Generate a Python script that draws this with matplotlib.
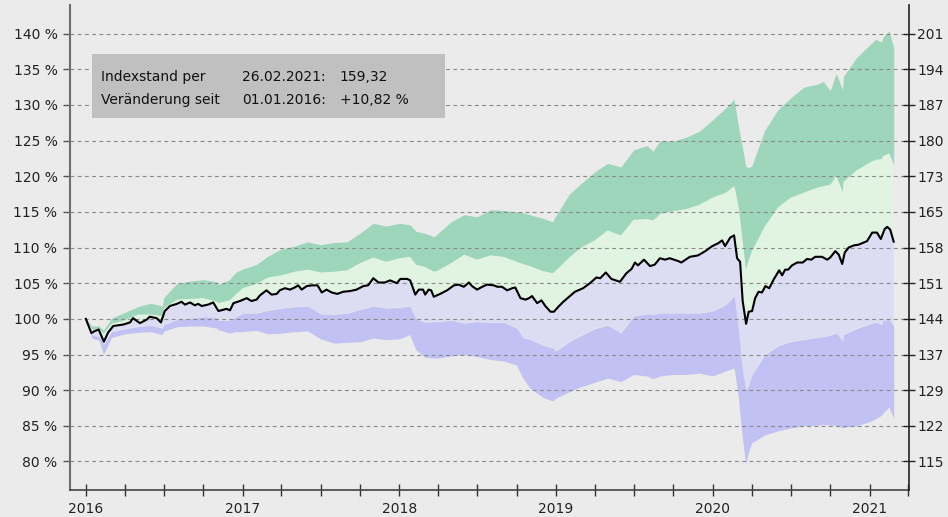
import numpy as np
import pandas as pd
import matplotlib
matplotlib.use("Agg")
import matplotlib.pyplot as plt
import matplotlib.dates as mdates
from matplotlib.patches import Rectangle
from matplotlib.ticker import FuncFormatter

# Bandbreiten in % vom Startwert (01.01.2016)
band_dates = [
    "2016-01-01", "2016-01-15", "2016-02-01", "2016-02-11", "2016-03-01", "2016-04-01",
    "2016-05-01", "2016-06-01", "2016-06-27", "2016-07-01", "2016-08-01", "2016-09-01",
    "2016-10-01", "2016-11-01", "2016-11-04", "2016-12-01", "2016-12-15",
    "2017-01-01", "2017-02-01", "2017-03-01", "2017-04-01", "2017-05-01", "2017-06-01",
    "2017-07-01", "2017-08-01", "2017-09-01", "2017-10-01", "2017-11-01", "2017-12-01",
    "2018-01-01", "2018-01-25", "2018-02-08", "2018-03-01", "2018-03-23", "2018-04-01",
    "2018-05-01", "2018-06-01", "2018-07-01", "2018-08-01", "2018-09-01", "2018-10-01",
    "2018-10-15", "2018-11-01", "2018-12-01", "2018-12-24",
    "2019-01-01", "2019-02-01", "2019-03-01", "2019-04-01", "2019-05-01", "2019-06-01",
    "2019-07-01", "2019-08-01", "2019-08-15", "2019-09-01", "2019-10-01", "2019-11-01",
    "2019-12-01",
    "2020-01-01", "2020-02-01", "2020-02-20", "2020-03-01", "2020-03-09", "2020-03-18",
    "2020-03-23", "2020-04-01", "2020-05-01", "2020-06-01", "2020-07-01", "2020-08-01",
    "2020-09-01", "2020-09-15", "2020-10-01", "2020-10-15", "2020-10-30", "2020-11-01",
    "2020-12-01",
    "2021-01-01", "2021-01-15", "2021-01-29", "2021-02-01", "2021-02-15", "2021-02-26",
]
band_top = [
    100.0, 99.0, 99.0, 98.4, 100.1, 100.9,
    101.7, 102.2, 101.8, 103.0, 105.0, 105.3,
    105.5, 105.2, 104.8, 105.5, 106.5,
    107.0, 107.6, 108.8, 109.8, 110.2, 110.8,
    110.4, 110.7, 110.8, 112.0, 113.4, 113.0,
    113.4, 113.2, 112.3, 112.0, 111.5, 112.0,
    113.6, 114.6, 114.3, 115.3, 115.2, 115.0,
    114.9, 114.6, 114.1, 113.6,
    114.5, 117.5, 119.0, 120.6, 121.8, 121.3,
    123.7, 124.3, 123.5, 125.0, 124.9, 125.5,
    126.3,
    127.9, 129.6, 130.8, 127.0, 124.5, 121.4,
    121.2, 121.4, 126.4, 129.3, 131.0, 132.5,
    132.9, 133.3, 132.0, 134.4, 132.1, 134.0,
    136.6,
    138.4, 139.2, 138.8, 139.5, 140.4, 138.0,
]
band_upper = [
    100.0, 98.5, 98.6, 97.9, 99.3, 99.8,
    100.6, 100.6, 100.4, 101.5, 102.7, 102.8,
    102.9, 102.4, 102.2, 102.6, 103.4,
    104.3, 104.9, 105.8, 106.1, 106.6, 106.9,
    106.5, 106.6, 106.8, 107.8, 108.6, 108.0,
    108.5, 108.7, 107.6, 107.3, 106.6, 106.8,
    107.8, 109.0, 108.3, 108.9, 108.7, 108.0,
    107.7, 107.4, 106.7, 106.4,
    106.8, 108.6, 110.0, 111.0, 112.4, 111.7,
    113.9, 114.0, 113.8, 114.7, 115.1, 115.4,
    116.0,
    117.0, 117.7, 118.6, 115.6, 111.5, 106.7,
    107.8, 109.4, 112.9, 115.6, 117.0, 117.7,
    118.4, 118.6, 118.8, 120.0, 117.7, 119.2,
    120.8,
    121.9, 122.3, 122.4, 122.8, 123.2, 121.6,
]
band_lower = [
    100.0, 97.8, 97.5, 96.4, 98.2, 98.6,
    98.9, 99.1, 98.7, 99.2, 99.9, 100.1,
    100.3, 100.2, 99.8, 99.8, 100.3,
    100.8, 100.8, 101.2, 101.5, 101.7, 101.8,
    100.7, 100.6, 100.8, 101.3, 101.8, 101.5,
    101.6, 101.8, 100.0, 99.5, 99.6, 99.6,
    99.8, 99.4, 99.6, 99.5, 99.5, 98.7,
    97.4, 97.1, 96.3, 95.9,
    95.5, 96.8, 97.7, 98.6, 99.1, 98.0,
    100.4, 100.7, 100.6, 100.8, 100.8, 100.8,
    100.8,
    101.1, 102.0, 103.2, 98.5, 93.3, 90.1,
    90.5, 92.1, 94.9, 96.2, 96.8, 97.1,
    97.4, 97.5, 97.7, 98.0, 96.9, 97.8,
    98.6,
    99.3, 99.5, 99.2, 99.8, 99.9, 99.0,
]
band_bottom = [
    100.0, 97.3, 97.0, 95.0, 97.4, 97.9,
    98.1, 98.2, 97.8, 98.3, 98.9, 99.0,
    99.0, 98.7, 98.5, 98.0, 98.2,
    98.2, 98.4, 97.9, 98.0, 98.2, 98.3,
    97.2, 96.6, 96.7, 96.8, 97.3, 97.1,
    97.2, 97.8, 95.7, 94.6, 94.5, 94.5,
    94.8, 95.0, 94.7, 94.3, 94.1, 93.5,
    91.8, 90.3, 89.0, 88.5,
    88.9, 89.8, 90.5, 91.1, 91.7, 91.2,
    92.2, 92.0, 91.6, 92.0, 92.2, 92.2,
    92.4,
    92.0, 92.7, 93.1, 89.0, 84.0, 79.6,
    81.0, 82.6, 83.7, 84.3, 84.7, 85.0,
    85.1, 85.2, 85.1, 85.1, 84.7, 84.8,
    85.0,
    85.6, 86.0, 86.5, 86.8, 87.6, 86.0,
]

# Indexverlauf in % vom Startwert
line_dates = [
    "2016-01-01", "2016-01-14", "2016-01-22", "2016-01-31", "2016-02-12", "2016-02-22",
    "2016-03-05", "2016-03-16", "2016-03-28", "2016-04-13", "2016-04-20", "2016-05-06",
    "2016-05-22", "2016-05-29", "2016-06-14", "2016-06-24", "2016-07-03", "2016-07-15",
    "2016-07-31", "2016-08-11", "2016-08-19", "2016-08-31", "2016-09-11", "2016-09-19",
    "2016-09-27", "2016-10-12", "2016-10-24", "2016-11-05", "2016-11-24", "2016-12-02",
    "2016-12-10", "2016-12-25",
    "2017-01-10", "2017-01-21", "2017-02-02", "2017-02-10", "2017-02-25", "2017-03-09",
    "2017-03-21", "2017-03-28", "2017-04-09", "2017-04-21", "2017-05-02", "2017-05-10",
    "2017-05-18", "2017-05-30", "2017-06-11", "2017-06-24", "2017-07-04", "2017-07-15",
    "2017-07-27", "2017-08-09", "2017-08-23", "2017-09-08", "2017-09-23", "2017-10-09",
    "2017-10-20", "2017-11-01", "2017-11-13", "2017-11-28", "2017-12-10", "2017-12-26",
    "2018-01-03", "2018-01-19", "2018-01-26", "2018-02-07", "2018-02-15", "2018-02-25",
    "2018-03-02", "2018-03-10", "2018-03-16", "2018-03-22", "2018-04-06", "2018-04-22",
    "2018-05-08", "2018-05-19", "2018-05-31", "2018-06-12", "2018-06-19", "2018-07-01",
    "2018-07-13", "2018-07-24", "2018-08-09", "2018-08-17", "2018-08-28", "2018-09-09",
    "2018-09-21", "2018-09-28", "2018-10-10", "2018-10-22", "2018-10-30", "2018-11-06",
    "2018-11-18", "2018-11-28", "2018-12-07", "2018-12-19", "2018-12-27",
    "2019-01-08", "2019-01-18", "2019-02-14", "2019-03-05", "2019-03-21", "2019-04-05",
    "2019-04-14", "2019-04-27", "2019-05-10", "2019-05-30", "2019-06-14", "2019-06-26",
    "2019-07-04", "2019-07-11", "2019-07-25", "2019-08-08", "2019-08-19", "2019-08-31",
    "2019-09-12", "2019-09-23", "2019-10-13", "2019-10-20", "2019-11-09", "2019-11-28",
    "2019-12-15", "2019-12-31",
    "2020-01-14", "2020-01-23", "2020-01-30", "2020-02-11", "2020-02-20", "2020-02-27",
    "2020-03-05", "2020-03-11", "2020-03-19", "2020-03-25", "2020-04-02", "2020-04-09",
    "2020-04-17", "2020-04-25", "2020-05-03", "2020-05-12", "2020-05-22", "2020-06-04",
    "2020-06-11", "2020-06-18", "2020-06-25", "2020-07-04", "2020-07-16", "2020-07-29",
    "2020-08-08", "2020-08-18", "2020-08-27", "2020-09-12", "2020-09-24", "2020-10-01",
    "2020-10-13", "2020-10-21", "2020-10-29", "2020-11-04", "2020-11-13", "2020-11-25",
    "2020-12-06", "2020-12-14", "2020-12-26",
    "2021-01-07", "2021-01-18", "2021-01-27", "2021-02-05", "2021-02-11", "2021-02-18",
    "2021-02-26",
]
line_values = [
    100.0, 98.0, 98.3, 98.5, 96.8, 98.1,
    99.0, 99.1, 99.2, 99.5, 100.1, 99.4,
    99.9, 100.3, 100.1, 99.5, 101.1, 101.8,
    102.1, 102.4, 102.0, 102.3, 101.9, 102.1,
    101.8, 102.0, 102.3, 101.1, 101.4, 101.2,
    102.2, 102.5,
    102.9, 102.5, 102.7, 103.3, 104.0, 103.4,
    103.5, 104.0, 104.3, 104.1, 104.4, 104.7,
    104.1, 104.6, 104.7, 104.7, 103.7, 104.1,
    103.7, 103.5, 103.8, 103.9, 104.1, 104.6,
    104.7, 105.7, 105.1, 105.1, 105.4, 105.0,
    105.6, 105.6, 105.4, 103.4, 104.1, 104.1,
    103.4, 104.1, 104.0, 103.1, 103.5, 104.0,
    104.7, 104.8, 104.5, 105.1, 104.6, 104.1,
    104.5, 104.8, 104.7, 104.5, 104.5, 104.0,
    104.3, 104.4, 102.9, 102.7, 102.9, 103.2,
    102.2, 102.6, 101.8, 101.0, 101.0,
    101.8, 102.4, 103.8, 104.3, 105.0, 105.8,
    105.7, 106.5, 105.6, 105.2, 106.4, 107.0,
    107.9, 107.5, 108.3, 107.4, 107.6, 108.5,
    108.3, 108.5, 108.1, 107.9, 108.7, 108.9,
    109.5, 110.2,
    110.6, 111.0, 110.2, 111.4, 111.7, 108.5,
    108.0, 102.5, 99.3, 101.0, 101.1, 102.9,
    103.8, 103.7, 104.6, 104.3, 105.5, 106.8,
    106.1, 106.9, 106.9, 107.5, 107.9, 107.9,
    108.4, 108.3, 108.7, 108.7, 108.3, 108.6,
    109.5, 109.0, 107.7, 109.3, 110.0, 110.3,
    110.4, 110.6, 110.9,
    112.1, 112.1, 111.2, 112.6, 112.9, 112.5,
    110.82,
]

index_level = 159.32
change_pct = 10.82
pct_ticks = list(range(80, 145, 5))

bg = "#ebebeb"
c_top = "#9dd6bb"
c_upper = "#e1f3e1"
c_lower = "#dcdcf3"
c_bottom = "#c1c1f3"

bd = mdates.date2num(pd.to_datetime(band_dates))
ld = mdates.date2num(pd.to_datetime(line_dates))
top = np.array(band_top)
upper = np.array(band_upper)
lower = np.array(band_lower)
bottom = np.array(band_bottom)
lv = np.array(line_values)

plt.rcParams["font.family"] = "DejaVu Sans"
plt.rcParams["font.size"] = 10

fig = plt.figure(figsize=(9.48, 5.17), dpi=100, facecolor=bg)
ax = fig.add_axes([0.0738, 0.0522, 0.8852, 0.938])
ax.set_facecolor(bg)

ax.fill_between(bd, upper, top, color=c_top, lw=0, zorder=1)
ax.fill(np.concatenate([ld, bd[::-1]]), np.concatenate([lv, upper[::-1]]),
        color=c_upper, lw=0, zorder=1)
ax.fill(np.concatenate([bd, ld[::-1]]), np.concatenate([lower, lv[::-1]]),
        color=c_lower, lw=0, zorder=1)
ax.fill_between(bd, bottom, lower, color=c_bottom, lw=0, zorder=1)

for p in pct_ticks:
    ax.axhline(p, color="#8a8a8a", lw=0.8, dashes=(3.5, 3), zorder=2)

ax.plot(ld, lv, color="black", lw=1.5, zorder=3)

ax.set_ylim(76, 144)
ax.set_xlim(mdates.date2num(pd.Timestamp("2015-11-25")), mdates.date2num(pd.Timestamp("2021-04-03")))
ax.set_yticks(pct_ticks)
ax.set_yticklabels([f"{p} %" for p in pct_ticks])

ax.xaxis.set_major_locator(mdates.MonthLocator(bymonth=[1, 4, 7, 10]))
ax.xaxis.set_major_formatter(FuncFormatter(
    lambda v, pos: str(mdates.num2date(v).year) if mdates.num2date(v).month == 1 else ""))

ax.tick_params(axis="y", direction="out", length=5, width=1, color="#555555",
               labelcolor="#222222", pad=4)
ax.tick_params(axis="x", direction="inout", length=8, width=1, color="#333333",
               labelcolor="#222222", pad=4.5)

ax.spines["top"].set_visible(False)
ax.spines["right"].set_visible(False)
ax.spines["left"].set_color("#6e6e6e")
ax.spines["left"].set_linewidth(1.5)
ax.spines["bottom"].set_color("#444444")
ax.spines["bottom"].set_linewidth(1.2)

# rechte Achse: Indexpunkte
base = index_level / (1 + change_pct / 100)
ax2 = ax.twinx()
ax2.set_ylim(76 * base / 100, 144 * base / 100)
ax2.set_yticks([p * base / 100 for p in pct_ticks])
ax2.set_yticklabels([f"{round(p * base / 100)}" for p in pct_ticks])
ax2.tick_params(axis="y", direction="inout", length=8, width=1, color="#222222",
                labelcolor="#222222", pad=2)
ax2.spines["top"].set_visible(False)
ax2.spines["left"].set_visible(False)
ax2.spines["bottom"].set_visible(False)
ax2.spines["right"].set_color("#222222")
ax2.spines["right"].set_linewidth(1.2)

# Infobox
ax.add_patch(Rectangle((0.0262, 0.767), 0.4208, 0.132, transform=ax.transAxes,
                       facecolor="#c0c0c0", edgecolor="none", zorder=5))
rows = [("Indexstand per", "26.02.2021:", "159,32"),
        ("Veränderung seit", "01.01.2016:", "+10,82 %")]
for i, (a, b, c) in enumerate(rows):
    yy = 0.852 - i * 0.048
    ax.text(0.0375, yy, a, transform=ax.transAxes, va="center", color="#111111", zorder=6)
    ax.text(0.2046, yy, b, transform=ax.transAxes, va="center", color="#111111", zorder=6)
    ax.text(0.3217, yy, c, transform=ax.transAxes, va="center", color="#111111", zorder=6)

fig.savefig("out.png", dpi=100, facecolor=bg)
